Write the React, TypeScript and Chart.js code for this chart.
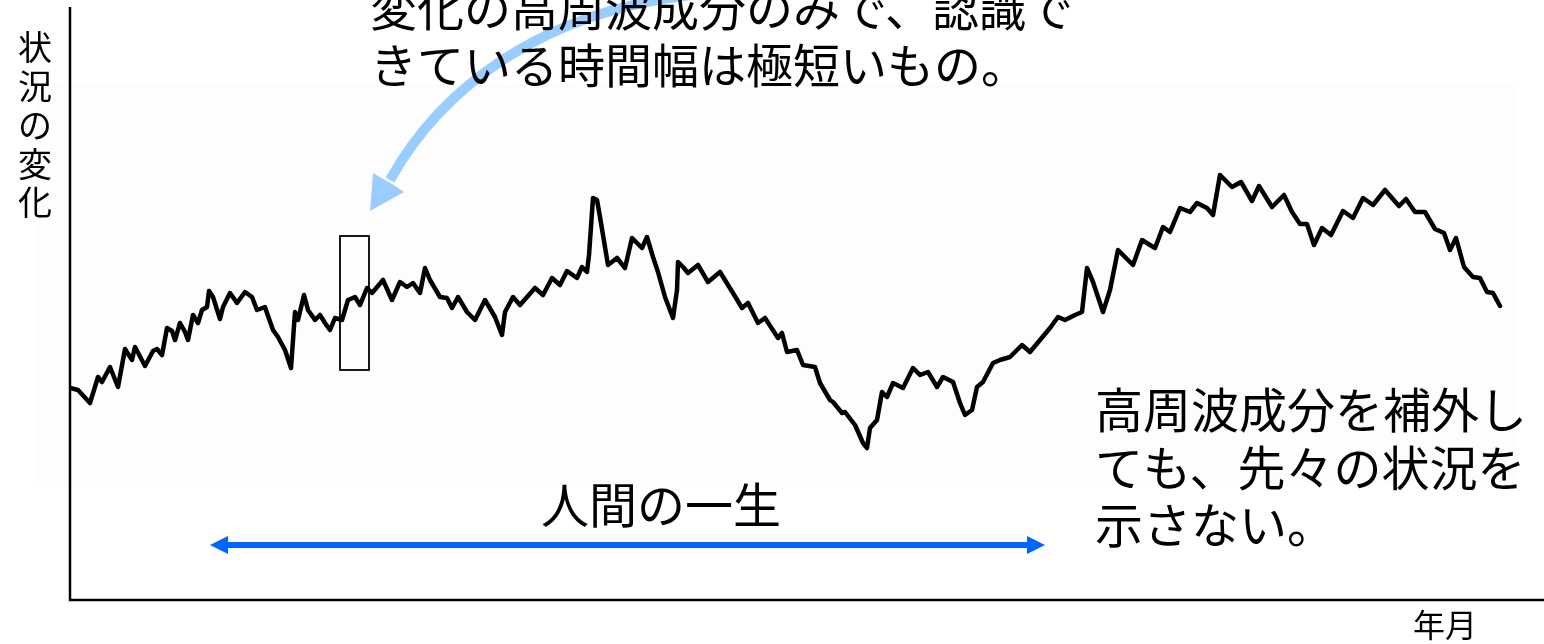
import React, { useEffect, useRef } from "react";
import { Chart, registerables } from "chart.js";

Chart.register(...registerables);

// time index (horizontal position along the period)
const timeIdx: number[] = [
  0, 8, 20, 28, 32, 40, 48, 55, 62, 65,
  75, 83, 87, 92, 97, 102, 105, 110, 115, 118,
  123, 128, 132, 137, 139, 143, 150, 153, 160, 167,
  175, 182, 187, 195, 197, 203, 208, 215, 221, 223,
  225, 228, 234, 238, 245, 250, 255, 260, 265, 272,
  278, 285, 290, 297, 302, 313, 322, 330, 337, 343,
  350, 355, 360, 370, 377, 382, 388, 397, 405, 415,
  425, 432, 435, 443, 450, 465, 473, 482, 490, 497,
  507, 512, 517, 519, 523, 527, 530, 538, 547, 555,
  562, 572, 577, 583, 588, 595, 603, 607, 608, 613,
  618, 628, 638, 650, 663, 672, 678, 688, 695, 708,
  712, 717, 727, 733, 745, 750, 760, 763, 772, 775,
  785, 793, 797, 800, 807, 812, 817, 823, 833, 843,
  850, 858, 867, 873, 883, 890, 895, 902, 907, 913,
  923, 930, 940, 952, 960, 970, 980, 988, 995, 1005,
  1012, 1017, 1023, 1033, 1040, 1048, 1053, 1063, 1072, 1080,
  1085, 1093, 1100, 1110, 1120, 1127, 1137, 1143, 1150, 1162,
  1171, 1182, 1189, 1202, 1214, 1222, 1230, 1237, 1244, 1252,
  1261, 1273, 1283, 1293, 1303, 1315, 1329, 1336, 1345, 1355,
  1365, 1374, 1380, 1386, 1394, 1403, 1410, 1417, 1423, 1430,
];

// state level (状況の変化)
const level: number[] = [
  212, 210, 197, 223, 218, 233, 213, 251, 240, 253,
  234, 249, 251, 245, 272, 269, 260, 277, 268, 260,
  285, 277, 290, 293, 309, 303, 281, 293, 307, 297,
  308, 303, 290, 293, 287, 270, 263, 250, 232, 260,
  288, 280, 305, 290, 280, 285, 277, 270, 282, 280,
  300, 303, 295, 312, 307, 320, 300, 318, 313, 317,
  307, 332, 320, 303, 302, 292, 303, 288, 280, 300,
  283, 265, 288, 303, 295, 312, 305, 322, 315, 329,
  322, 333, 328, 345, 402, 400, 383, 335, 342, 332,
  362, 352, 363, 343, 328, 303, 282, 310, 338, 333,
  327, 335, 318, 328, 307, 292, 297, 277, 282, 262,
  267, 248, 250, 235, 233, 217, 200, 198, 187, 188,
  175, 157, 152, 172, 180, 208, 203, 217, 212, 232,
  225, 228, 213, 223, 218, 197, 185, 190, 213, 218,
  237, 240, 243, 255, 248, 260, 272, 283, 280, 285,
  288, 332, 318, 288, 310, 350, 345, 335, 360, 355,
  352, 373, 368, 392, 388, 397, 392, 385, 425, 413,
  418, 399, 414, 393, 405, 388, 376, 376, 355, 372,
  365, 389, 382, 402, 395, 410, 394, 401, 388, 388,
  371, 367, 350, 362, 333, 323, 322, 308, 307, 294,
];

const yLabelChars: string[] = ["状", "況", "の", "変", "化"];
const topNote: string[] = ["変化の高周波成分のみで、認識で", "きている時間幅は極短いもの。"];
const rightNote: string[] = ["高周波成分を補外し", "ても、先々の状況を", "示さない。"];
const lifeLabel = "人間の一生";
const xLabel = "年月";

const FONT = '"Noto Sans CJK JP", "Noto Sans", sans-serif';

const annotationPlugin = {
  id: "annotations",
  beforeDraw(chart: any) {
    const ctx = chart.ctx as CanvasRenderingContext2D;
    ctx.save();
    ctx.fillStyle = "#ffffff";
    ctx.fillRect(0, 0, chart.width, chart.height);
    ctx.fillStyle = "#fdfdfd";
    ctx.fillRect(37, 85, 1478, 397);
    ctx.restore();
  },
  afterDraw(chart: any) {
    const ctx = chart.ctx as CanvasRenderingContext2D;
    const { left, right, top, bottom } = chart.chartArea;
    ctx.save();
    // axes
    ctx.strokeStyle = "#000";
    ctx.lineWidth = 2.5;
    ctx.beginPath();
    ctx.moveTo(left, top);
    ctx.lineTo(left, bottom);
    ctx.lineTo(right, bottom);
    ctx.stroke();

    // light blue curved arrow
    ctx.strokeStyle = "#99ccff";
    ctx.fillStyle = "#99ccff";
    ctx.lineWidth = 10;
    ctx.lineCap = "butt";
    ctx.beginPath();
    ctx.moveTo(700, -6);
    ctx.bezierCurveTo(540, 10, 440, 90, 390, 180);
    ctx.stroke();
    ctx.beginPath();
    ctx.moveTo(370, 211);
    ctx.lineTo(373, 173);
    ctx.lineTo(392, 184);
    ctx.lineTo(404, 192);
    ctx.closePath();
    ctx.fill();

    // rectangle
    ctx.strokeStyle = "#000";
    ctx.lineWidth = 1.8;
    ctx.strokeRect(340, 236, 29, 134);

    // blue double arrow
    ctx.strokeStyle = "#0066ff";
    ctx.fillStyle = "#0066ff";
    ctx.lineWidth = 6;
    ctx.beginPath();
    ctx.moveTo(225, 545);
    ctx.lineTo(1030, 545);
    ctx.stroke();
    ctx.beginPath();
    ctx.moveTo(210, 545);
    ctx.lineTo(228, 536);
    ctx.lineTo(228, 554);
    ctx.closePath();
    ctx.fill();
    ctx.beginPath();
    ctx.moveTo(1045, 545);
    ctx.lineTo(1027, 536);
    ctx.lineTo(1027, 554);
    ctx.closePath();
    ctx.fill();

    // texts
    ctx.fillStyle = "#000";
    ctx.textBaseline = "middle";
    ctx.textAlign = "left";
    ctx.font = `47px ${FONT}`;
    ctx.fillText(topNote[0], 370, 8);
    ctx.fillText(topNote[1], 370, 65);
    ctx.font = `48px ${FONT}`;
    ctx.fillText(rightNote[0], 1095, 410);
    ctx.fillText(rightNote[1], 1095, 468);
    ctx.fillText(rightNote[2], 1095, 525);
    ctx.textAlign = "center";
    ctx.fillText(lifeLabel, 661, 505);
    ctx.font = `34px ${FONT}`;
    const ys = [47, 86, 125, 164, 202];
    yLabelChars.forEach((c, i) => ctx.fillText(c, 35, ys[i]));
    ctx.font = `32px ${FONT}`;
    ctx.fillText(xLabel, 1445, 625);
    ctx.restore();
  },
};

export default function App() {
  const ref = useRef<HTMLCanvasElement | null>(null);
  useEffect(() => {
    if (!ref.current) return;
    const chart = new Chart(ref.current, {
      type: "line",
      data: {
        datasets: [
          {
            data: timeIdx.map((t, i) => ({ x: t, y: level[i] })),
            borderColor: "#000",
            borderWidth: 4.5,
            pointRadius: 0,
            tension: 0,
            fill: false,
            borderJoinStyle: "round",
            borderCapStyle: "round",
          },
        ],
      },
      options: {
        animation: false,
        responsive: false,
        devicePixelRatio: 1,
        layout: { padding: { left: 70, top: 7, right: 0, bottom: 44 } },
        plugins: { legend: { display: false }, tooltip: { enabled: false } },
        scales: {
          x: { type: "linear", min: 0, max: 1474, display: false },
          y: { min: 0, max: 593, display: false },
        },
      },
      plugins: [annotationPlugin],
    });
    return () => chart.destroy();
  }, []);
  return (
    <div style={{ position: "absolute", left: 0, top: 0, width: 1544, height: 644 }}>
      <canvas ref={ref} width={1544} height={644} />
    </div>
  );
}
